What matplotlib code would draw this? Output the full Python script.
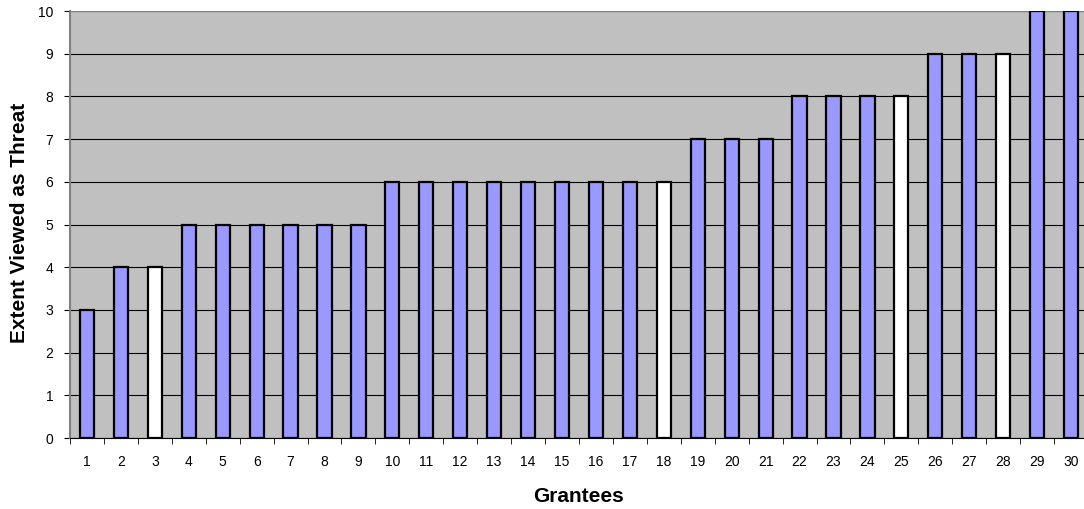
import numpy as np
import matplotlib.pyplot as plt

plt.rcParams['font.family'] = ['Liberation Sans', 'DejaVu Sans']

grantees = list(range(1, 31))
threat = [3, 4, 4, 5, 5, 5, 5, 5, 5, 6, 6, 6, 6, 6, 6, 6, 6, 6,
          7, 7, 7, 8, 8, 8, 8, 9, 9, 9, 10, 10]
white_ones = [3, 18, 25, 28]

colors = ['#FFFFFF' if g in white_ones else '#9999FF' for g in grantees]

fig = plt.figure(figsize=(10.84, 5.09), dpi=100)
ax = fig.add_axes([70/1084, 71/509, 1018/1084, 427/509])
ax.set_facecolor('#C0C0C0')

x = np.arange(1, 31)
ax.bar(x, threat, width=0.42, color=colors, edgecolor='black', linewidth=1.6, zorder=3)

ax.set_xlim(0.5, 30.5)
ax.set_ylim(0, 10)
ax.set_yticks(range(0, 11))
ax.yaxis.grid(True, color='black', linewidth=0.8, zorder=1)
ax.set_axisbelow(True)

ax.set_xticks(x)
ax.set_xticklabels([str(g) for g in grantees], fontsize=10)
ax.tick_params(axis='x', length=0, pad=12)
ax.set_xticks(np.arange(0.5, 31, 1), minor=True)
ax.tick_params(axis='x', which='minor', length=4, direction='out', color='black')
ax.tick_params(axis='y', length=4, direction='out', labelsize=10, pad=8)

for s in ['top', 'right']:
    ax.spines[s].set_visible(False)
ax.spines['left'].set_color('#808080')
ax.spines['left'].set_linewidth(1.5)
ax.spines['bottom'].set_color('black')
ax.axhline(10, color='#808080', linewidth=1.5, zorder=2)

fig.text(579/1084, 1 - 497/509, 'Grantees', fontsize=15,
         fontweight='bold', ha='center', va='center')
fig.text(20/1084, 1 - 223/509, 'Extent Viewed as Threat', fontsize=15,
         fontweight='bold', ha='center', va='center', rotation=90)

fig.savefig('out.png', dpi=100)
